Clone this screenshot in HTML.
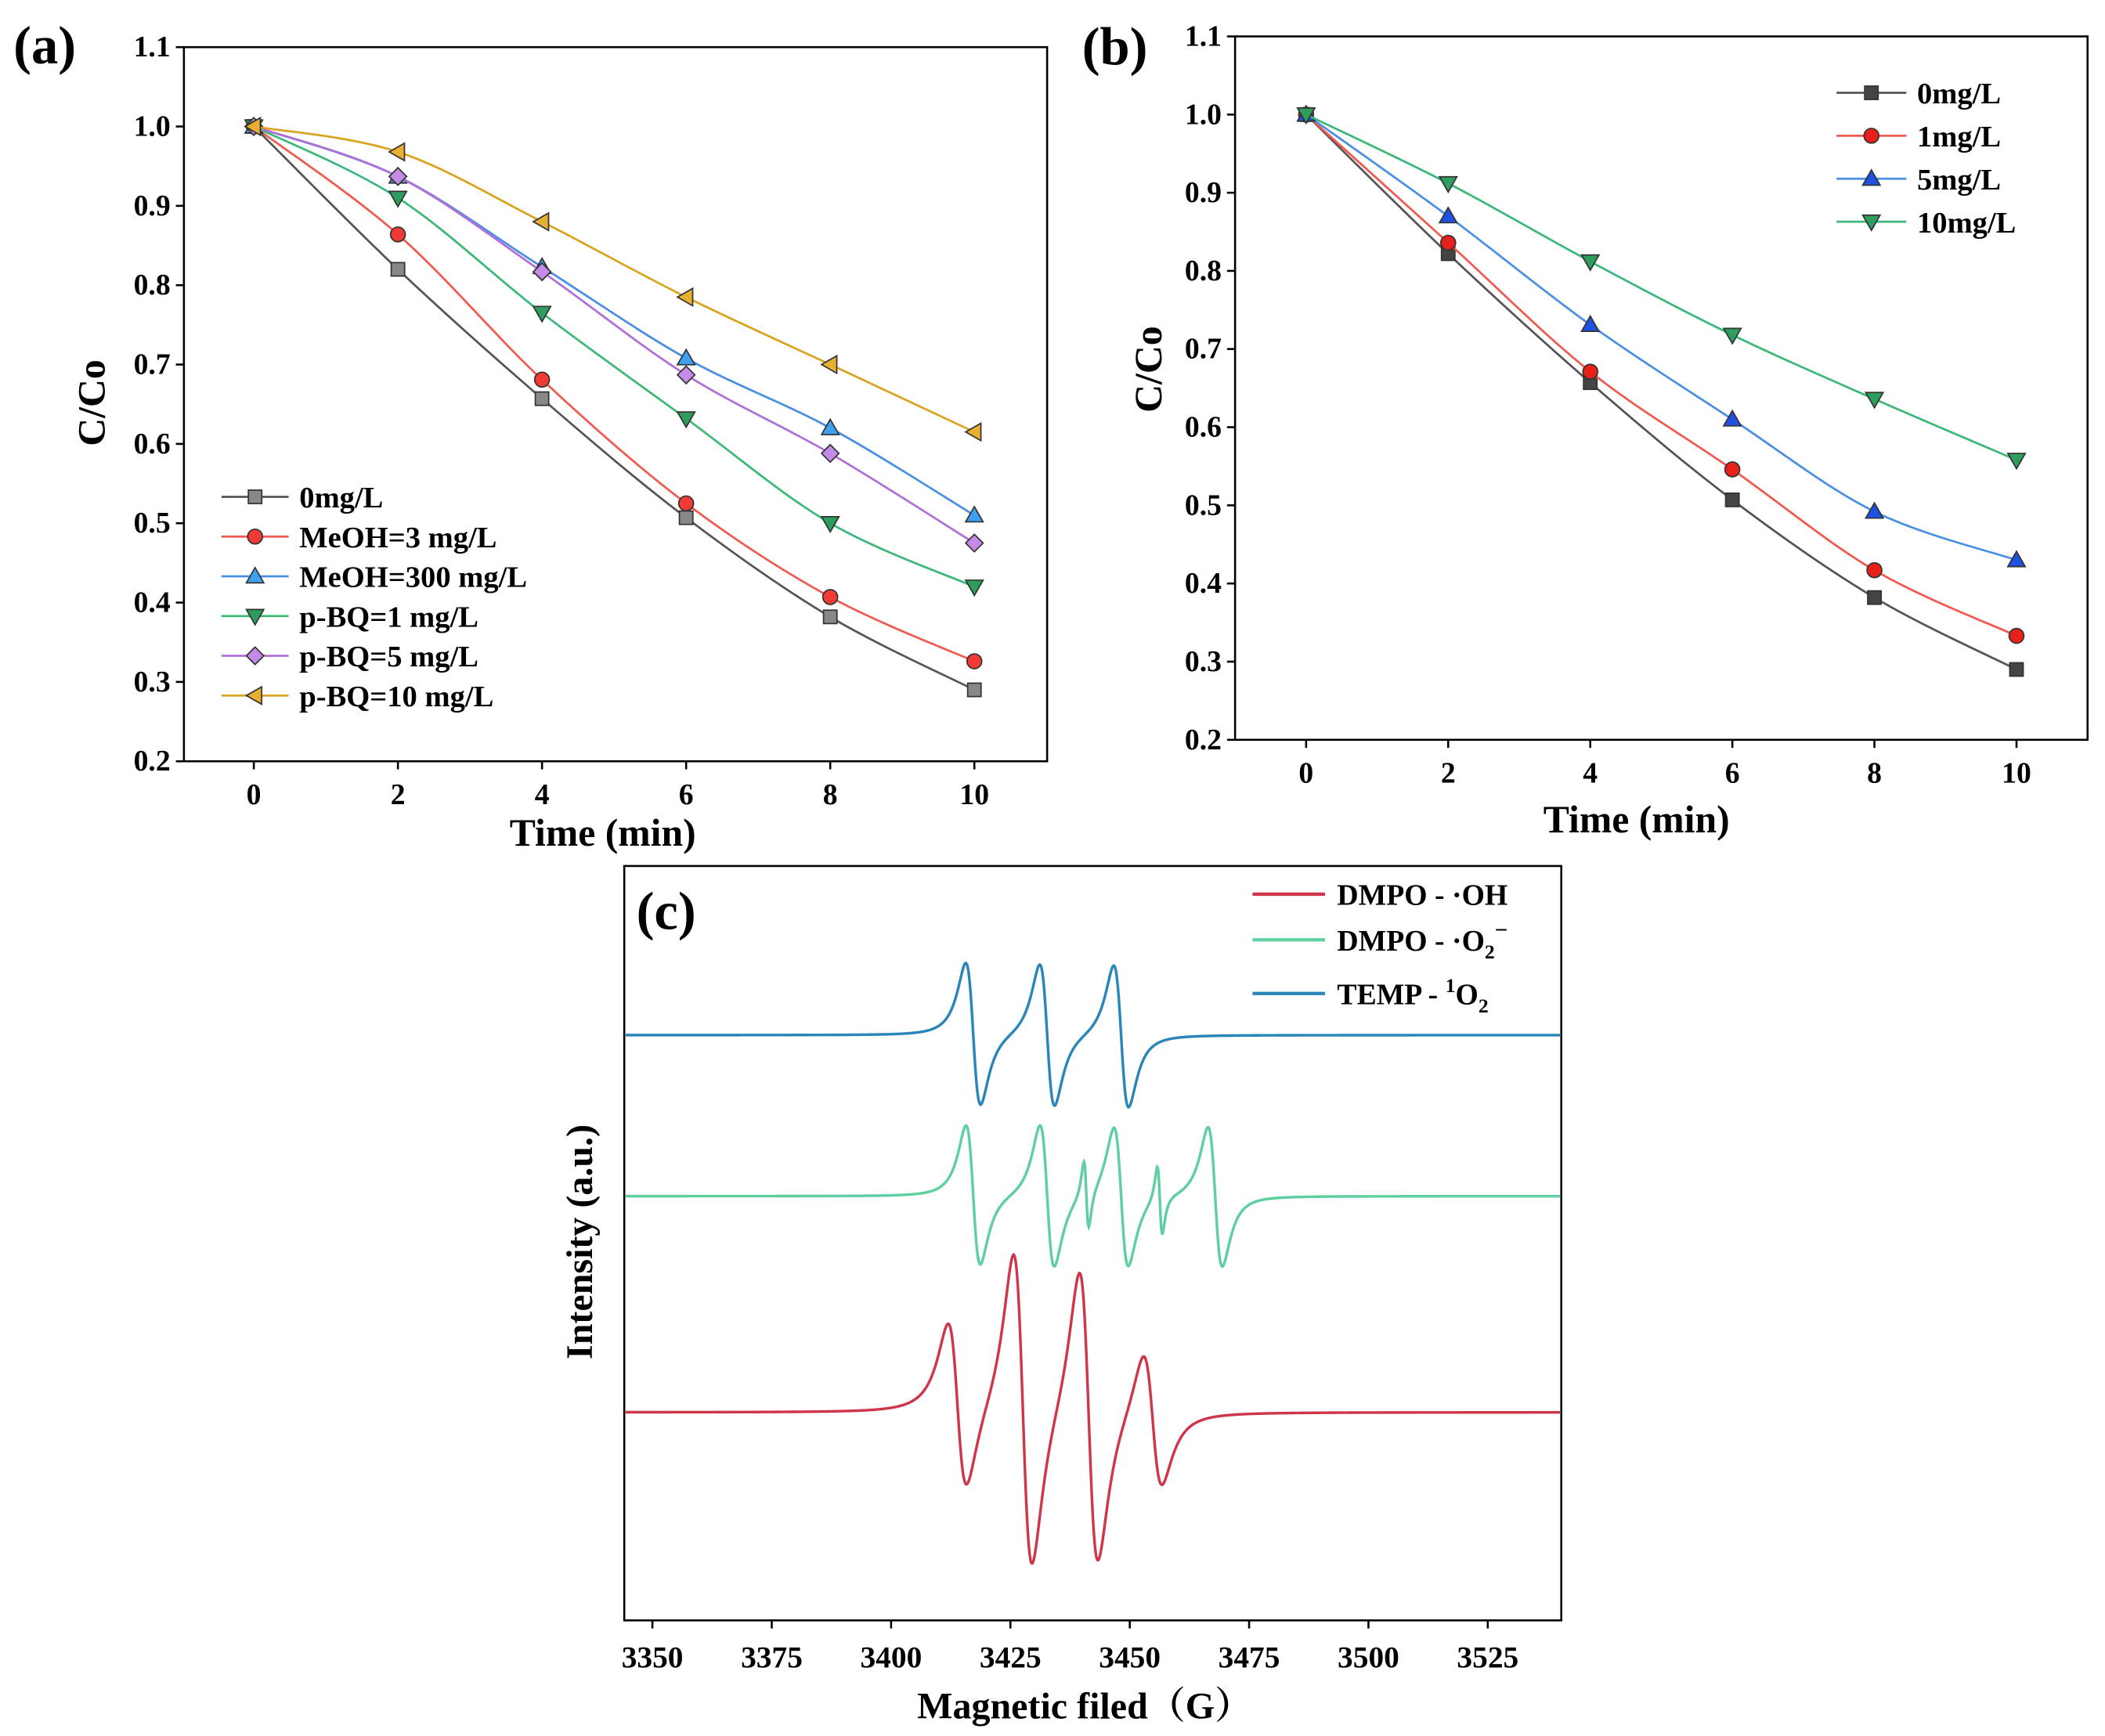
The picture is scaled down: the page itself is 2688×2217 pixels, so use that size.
<!DOCTYPE html>
<html><head><meta charset="utf-8"><style>
html,body{margin:0;padding:0;background:#fff;}
svg{display:block;font-family:"Liberation Serif",serif;font-weight:bold;}
</style></head><body>
<svg id="fig" width="2688" height="2217" viewBox="0 0 1568 1293" xmlns="http://www.w3.org/2000/svg">
<rect x="0" y="0" width="1568" height="1293" fill="#fff"/>
<g id="pa"></g>
<g id="pb"></g>
<g id="pc"></g>
</svg>
<script>
// ---- Panel (a) data ----
const timeA = [0, 2, 4, 6, 8, 10];
const seriesNamesA = ["0mg/L", "MeOH=3 mg/L", "MeOH=300 mg/L", "p-BQ=1 mg/L", "p-BQ=5 mg/L", "p-BQ=10 mg/L"];
const a0 = [1, 0.82, 0.657, 0.507, 0.382, 0.29];
const aMeOH3 = [1, 0.864, 0.681, 0.525, 0.407, 0.326];
const aMeOH300 = [1, 0.937, 0.823, 0.708, 0.62, 0.51];
const aBQ1 = [1, 0.91, 0.765, 0.632, 0.50, 0.42];
const aBQ5 = [1, 0.937, 0.817, 0.687, 0.588, 0.475];
const aBQ10 = [1, 0.968, 0.88, 0.785, 0.70, 0.615];
const xTicksA = [0, 2, 4, 6, 8, 10];
const yTicksA = [0.2, 0.3, 0.4, 0.5, 0.6, 0.7, 0.8, 0.9, 1.0, 1.1];
// ---- Panel (b) data ----
const timeB = [0, 2, 4, 6, 8, 10];
const seriesNamesB = ["0mg/L", "1mg/L", "5mg/L", "10mg/L"];
const b0 = [1, 0.822, 0.657, 0.507, 0.382, 0.29];
const b1 = [1, 0.836, 0.671, 0.546, 0.417, 0.333];
const b5 = [1, 0.87, 0.731, 0.61, 0.492, 0.43];
const b10 = [1, 0.912, 0.812, 0.718, 0.636, 0.558];
// ---- Panel (c) data: EPR line centers (G), amplitudes (a.u.), widths (G) ----
const xTicksC = [3350, 3375, 3400, 3425, 3450, 3475, 3500, 3525];
const ohCenters = [3413.9, 3427.6, 3441.4, 3454.8];
const ohAmps = [62, 118, 110, 50];
const ohWidth = 3.4;
const o2Centers = [3417.2, 3432.7, 3440.9, 3448.2, 3456.3, 3467.9];
const o2Amps = [52, 53, 26, 52, 26, 52];
const o2Widths = [2.6, 2.6, 0.9, 2.6, 0.9, 2.6];
const tempCenters = [3417.2, 3432.7, 3448.2];
const tempAmps = [53, 53, 53];
const tempWidth = 2.7;

const NS = "http://www.w3.org/2000/svg";
function el(parent, tag, attrs, text) {
  const e = document.createElementNS(NS, tag);
  for (const k in attrs) e.setAttribute(k, attrs[k]);
  if (text !== undefined) e.textContent = text;
  parent.appendChild(e);
  return e;
}
function smoothPath(pts) {
  let d = "M" + pts[0][0] + "," + pts[0][1];
  for (let i = 0; i < pts.length - 1; i++) {
    const p0 = pts[Math.max(0, i - 1)], p1 = pts[i], p2 = pts[i + 1], p3 = pts[Math.min(pts.length - 1, i + 2)];
    const c1x = p1[0] + (p2[0] - p0[0]) / 6, c1y = p1[1] + (p2[1] - p0[1]) / 6;
    const c2x = p2[0] - (p3[0] - p1[0]) / 6, c2y = p2[1] - (p3[1] - p1[1]) / 6;
    d += " C" + c1x + "," + c1y + " " + c2x + "," + c2y + " " + p2[0] + "," + p2[1];
  }
  return d;
}
function marker(g, type, cx, cy, fill, stroke) {
  const s = 6.5;
  let m;
  if (type === "square") m = el(g, "rect", {x: cx - 5, y: cy - 5, width: 10, height: 10});
  else if (type === "circle") m = el(g, "circle", {cx: cx, cy: cy, r: 5.5});
  else if (type === "up") m = el(g, "polygon", {points: `${cx},${cy - s} ${cx - s},${cy + s * 0.75} ${cx + s},${cy + s * 0.75}`});
  else if (type === "down") m = el(g, "polygon", {points: `${cx},${cy + s} ${cx - s},${cy - s * 0.75} ${cx + s},${cy - s * 0.75}`});
  else if (type === "diamond") m = el(g, "polygon", {points: `${cx},${cy - s} ${cx + s},${cy} ${cx},${cy + s} ${cx - s},${cy}`});
  else m = el(g, "polygon", {points: `${cx - s},${cy} ${cx + s * 0.75},${cy - s} ${cx + s * 0.75},${cy + s}`});
  m.setAttribute("fill", fill);
  m.setAttribute("stroke", stroke);
  m.setAttribute("stroke-width", "1");
  return m;
}

function linePanel(g, box, xr, yr, xs, series, yTicks, xTicks, labelOpts) {
  const X = v => box.x0 + (v - xr[0]) / (xr[1] - xr[0]) * (box.x1 - box.x0);
  const Y = v => box.y1 - (v - yr[0]) / (yr[1] - yr[0]) * (box.y1 - box.y0);
  const frame = el(g, "rect", {x: box.x0, y: box.y0, width: box.x1 - box.x0, height: box.y1 - box.y0, fill: "none", stroke: "#000", "stroke-width": 1.5});
  
  
  yTicks.forEach(t => {
    const y = Y(t);
    el(g, "line", {x1: box.x0, x2: box.x0 - 6, y1: y, y2: y, stroke: "#000", "stroke-width": 1.5});
    const tl = el(g, "text", {x: box.x0 - 10, y: y + 7, "text-anchor": "end", "font-size": 22}, t.toFixed(1));
    
    
  });
  xTicks.forEach(t => {
    const x = X(t);
    el(g, "line", {x1: x, x2: x, y1: box.y1, y2: box.y1 + 6, stroke: "#000", "stroke-width": 1.5});
    const tl = el(g, "text", {x: x, y: box.y1 + 32, "text-anchor": "middle", "font-size": 22}, String(t));
    
    
  });
  series.forEach(s => {
    const sg = el(g, "g", {});
    
    
    const pts = xs.map((x, i) => [X(x), Y(s.vals[i])]);
    el(sg, "path", {d: smoothPath(pts), fill: "none", stroke: s.line, "stroke-width": 1.6});
    pts.forEach(p => {
      const m = marker(sg, s.shape, p[0], p[1], s.fill, "#333");
      
      
    });
  });
  series.forEach((s, i) => {
    const ly = labelOpts.ly0 + i * labelOpts.dy;
    const lg = el(g, "g", {});
    
    
    el(lg, "line", {x1: labelOpts.lx, x2: labelOpts.lx + labelOpts.lw, y1: ly, y2: ly, stroke: s.line, "stroke-width": 1.6});
    marker(lg, s.shape, labelOpts.lx + labelOpts.lw / 2, ly, s.fill, "#333");
    el(lg, "text", {x: labelOpts.lx + labelOpts.lw + 8, y: ly + 8, "font-size": 22.5}, s.name);
  });
  const xt = el(g, "text", {x: labelOpts.xtx, y: labelOpts.xty, "text-anchor": "middle", "font-size": 29}, "Time (min)");
  
  
  const yt = el(g, "text", {x: 0, y: 0, "text-anchor": "middle", "font-size": 29, transform: `translate(${labelOpts.ytx},${labelOpts.yty}) rotate(-90)`}, "C/Co");
  
  
  const pl = el(g, "text", {x: labelOpts.px, y: labelOpts.py, "font-size": 40}, labelOpts.plabel);
  
  
}

const pa = document.getElementById("pa");
linePanel(pa, {x0: 137, x1: 780, y0: 35, y1: 567}, [-0.97, 11.01], [0.2, 1.1], timeA, [
  {key: "0mg", name: seriesNamesA[0], vals: a0, line: "#555", fill: "#888", shape: "square"},
  {key: "meoh3", name: seriesNamesA[1], vals: aMeOH3, line: "#f05a50", fill: "#f03a35", shape: "circle"},
  {key: "meoh300", name: seriesNamesA[2], vals: aMeOH300, line: "#4a90e2", fill: "#3fa0f0", shape: "up"},
  {key: "bq1", name: seriesNamesA[3], vals: aBQ1, line: "#3cb878", fill: "#2e9e5e", shape: "down"},
  {key: "bq5", name: seriesNamesA[4], vals: aBQ5, line: "#b070d8", fill: "#c58be8", shape: "diamond"},
  {key: "bq10", name: seriesNamesA[5], vals: aBQ10, line: "#d9a520", fill: "#e8b030", shape: "left"}
], yTicksA, xTicksA, {ly0: 370, dy: 29.6, lx: 165, lw: 50, xtx: 449, xty: 630, ytx: 78, yty: 300, px: 10, py: 47, plabel: "(a)"});

const pb = document.getElementById("pb");
linePanel(pb, {x0: 920, x1: 1555, y0: 27, y1: 551}, [-1.0, 11.0], [0.2, 1.1], timeB, [
  {key: "0mg", name: seriesNamesB[0], vals: b0, line: "#555", fill: "#444", shape: "square"},
  {key: "1mg", name: seriesNamesB[1], vals: b1, line: "#f05a50", fill: "#e8201a", shape: "circle"},
  {key: "5mg", name: seriesNamesB[2], vals: b5, line: "#4a90e2", fill: "#2050e0", shape: "up"},
  {key: "10mg", name: seriesNamesB[3], vals: b10, line: "#3cb878", fill: "#2e9e5e", shape: "down"}
], yTicksA, xTicksA, {ly0: 69, dy: 32, lx: 1368, lw: 52, xtx: 1219, xty: 620, ytx: 865, yty: 275, px: 806, py: 48, plabel: "(b)"});

// ---- Panel (c) ----
const pc = document.getElementById("pc");
const cbox = {x0: 465, x1: 1163, y0: 645, y1: 1207};
const cr = [3344.1, 3540.4];
const XC = g => cbox.x0 + (g - cr[0]) / (cr[1] - cr[0]) * (cbox.x1 - cbox.x0);
const cf = el(pc, "rect", {x: cbox.x0, y: cbox.y0, width: cbox.x1 - cbox.x0, height: cbox.y1 - cbox.y0, fill: "none", stroke: "#000", "stroke-width": 1.5});


xTicksC.forEach(t => {
  const x = XC(t);
  el(pc, "line", {x1: x, x2: x, y1: cbox.y1, y2: cbox.y1 + 6, stroke: "#000", "stroke-width": 1.5});
  const tl = el(pc, "text", {x: x, y: cbox.y1 + 35, "text-anchor": "middle", "font-size": 23}, String(t));
  
  
});
function deriv(gx, centers, amps, widths) {
  let s = 0;
  centers.forEach((c, i) => {
    const w = Array.isArray(widths) ? widths[i] : widths;
    const u = (gx - c) / w;
    s += amps[i] * (-u / Math.pow(1 + u * u, 2)) / 0.3248;
  });
  return s;
}
function spectrum(key, base, centers, amps, widths, color) {
  let d = "";
  for (let px = cbox.x0 + 1; px <= cbox.x1 - 1; px += 0.5) {
    const gx = cr[0] + (px - cbox.x0) / (cbox.x1 - cbox.x0) * (cr[1] - cr[0]);
    const y = base - deriv(gx, centers, amps, widths);
    d += (d ? " L" : "M") + px.toFixed(1) + "," + y.toFixed(2);
  }
  const p = el(pc, "path", {d: d, fill: "none", stroke: color, "stroke-width": 2});
  
  
}
spectrum("temp-1o2", 771, tempCenters, tempAmps, tempWidth, "#2a86b8");
spectrum("dmpo-o2", 891, o2Centers, o2Amps, o2Widths, "#5ecfa0");
spectrum("dmpo-oh", 1052, ohCenters, ohAmps, ohWidth, "#d0364a");
const legY = [666, 700, 740];
const legColors = ["#d0364a", "#5ecfa0", "#2a86b8"];
legY.forEach((y, i) => {
  const lg = el(pc, "g", {});
  
  
  el(lg, "line", {x1: 933, x2: 987, y1: y, y2: y, stroke: legColors[i], "stroke-width": 2.5});
  const t = el(lg, "text", {x: 996, y: y + 8, "font-size": 22});
  if (i === 0) t.textContent = "DMPO - ·OH";
  if (i === 1) {
    t.textContent = "DMPO - ·O";
    el(t, "tspan", {"font-size": 15, dy: 6}, "2");
    el(t, "tspan", {"font-size": 17, dy: -16}, "−");
  }
  if (i === 2) {
    t.textContent = "TEMP - ";
    el(t, "tspan", {"font-size": 15, dy: -9}, "1");
    el(t, "tspan", {"font-size": 22, dy: 9}, "O");
    el(t, "tspan", {"font-size": 15, dy: 6}, "2");
  }
});
const cxt = el(pc, "text", {x: 808, y: 1280, "text-anchor": "middle", "font-size": 28, "font-family": "Liberation Serif, Noto Serif CJK SC, serif"}, "Magnetic filed（G）");


const cyt = el(pc, "text", {x: 0, y: 0, "text-anchor": "middle", "font-size": 28, transform: "translate(441,925) rotate(-90)"}, "Intensity (a.u.)");


const cpl = el(pc, "text", {x: 474, y: 692, "font-size": 40}, "(c)");


</script>
</body></html>
